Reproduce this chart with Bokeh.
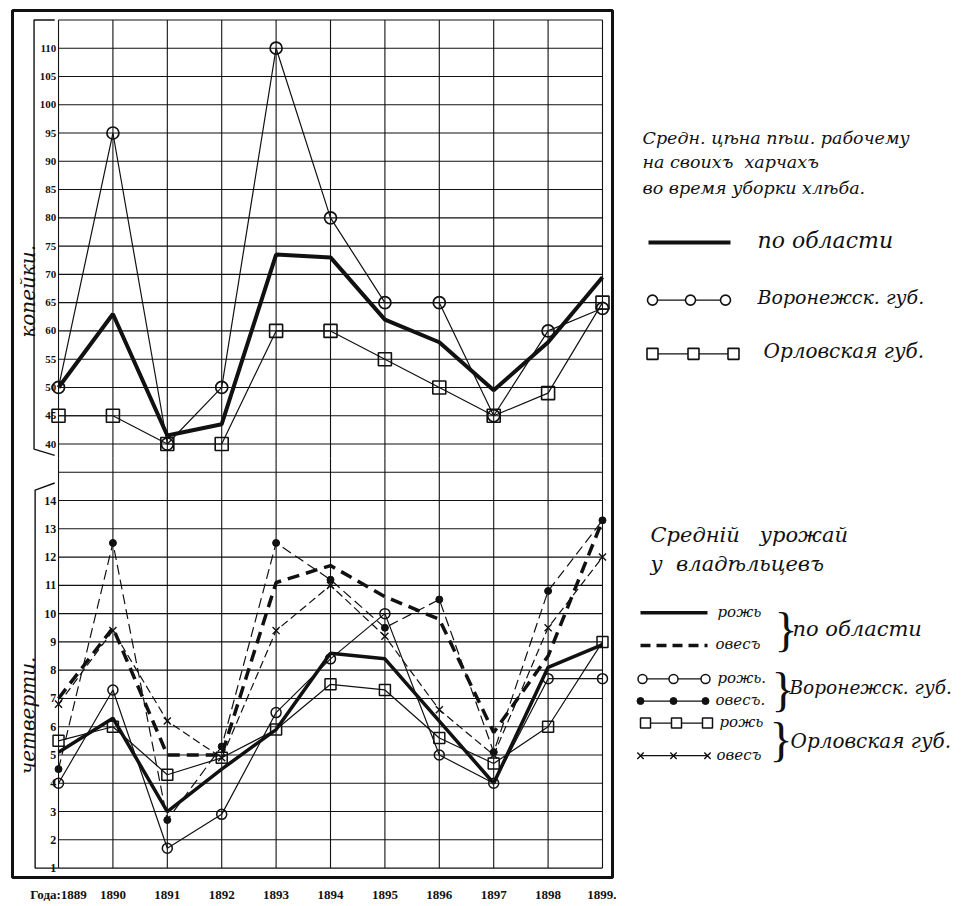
from bokeh.plotting import figure
from bokeh.models import Range1d, FixedTicker
from bokeh.layouts import row
from bokeh.embed import file_html
from bokeh.resources import INLINE
from bokeh.core.properties import value
import math

# ---------------- data ----------------
years = [1889, 1890, 1891, 1892, 1893, 1894, 1895, 1896, 1897, 1898, 1899]
year_labels = ["Года:1889", "1890", "1891", "1892", "1893", "1894",
               "1895", "1896", "1897", "1898", "1899."]

price_ticks = [40, 45, 50, 55, 60, 65, 70, 75, 80, 85, 90, 95, 100, 105, 110]
price_grid = [40, 45, 50, 55, 60, 65, 70, 75, 80, 85, 90, 95, 100, 105, 110, 115]
yield_ticks = [1, 2, 3, 4, 5, 6, 7, 8, 9, 10, 11, 12, 13, 14]
yield_grid = [1, 2, 3, 4, 5, 6, 7, 8, 9, 10, 11, 12, 13, 14, 15]

# wage of a day labourer at harvest time (kopecks)
price_region = [50, 63, 41.5, 43.5, 73.5, 73, 62, 58, 49.5, 58, 69.5]
price_voronezh = [50, 95, 40, 50, 110, 80, 65, 65, 45, 60, 64]
price_orel = [45, 45, 40, 40, 60, 60, 55, 50, 45, 49, 65]

# average yield of landowners (chetverti)
yield_region_rye = [5.1, 6.3, 3.0, 4.5, 5.9, 8.6, 8.4, 6.2, 4.0, 8.1, 8.9]
yield_region_oats = [7.0, 9.5, 5.0, 5.0, 11.1, 11.7, 10.6, 9.8, 5.8, 8.5, 13.3]
yield_voronezh_rye = [4.0, 7.3, 1.7, 2.9, 6.5, 8.4, 10.0, 5.0, 4.0, 7.7, 7.7]
yield_voronezh_oats = [4.5, 12.5, 2.7, 5.3, 12.5, 11.2, 9.5, 10.5, 5.1, 10.8, 13.3]
yield_orel_rye = [5.5, 6.0, 4.3, 4.9, 5.9, 7.5, 7.3, 5.6, 4.7, 6.0, 9.0]
yield_orel_oats = [6.8, 9.4, 6.2, 4.9, 9.4, 11.0, 9.2, 6.6, 5.0, 9.5, 12.0]

FONT = value("Liberation Serif")
HAND = value("DejaVu Serif")
INK = "#111111"

# ---------------- main chart ----------------
p = figure(width=616, height=904,
           x_range=Range1d(1888.154, 1899.184),
           y_range=Range1d(-36.667, 116.667),
           output_backend="svg", toolbar_location=None,
           y_axis_location=None,
           min_border_left=12, min_border_right=4,
           min_border_top=10, min_border_bottom=20)
p.extra_y_ranges = {"yield": Range1d(0.6667, 31.333)}
p.xgrid.visible = False
p.ygrid.visible = False
p.outline_line_color = INK
p.outline_line_width = 3
p.background_fill_color = "white"
p.border_fill_color = "white"

ax = p.xaxis[0]
ax.ticker = FixedTicker(ticks=years)
ax.major_label_overrides = {y: lab for y, lab in zip(years, year_labels)}
ax.axis_line_color = None
ax.major_tick_line_color = None
ax.minor_tick_line_color = None
ax.major_label_standoff = 3
ax.major_label_text_font = "Liberation Serif"
ax.major_label_text_font_size = "13px"
ax.major_label_text_font_style = "bold"
ax.major_label_text_color = INK

n = len(years)
x_first, x_last = years[0], years[-1]
price_top = price_grid[-1]
price_floor = 37.5
yield_top = 15.5

# grid: vertical lines
p.segment(x0=years, x1=years, y0=[price_floor] * n, y1=[price_top] * n,
          line_color=INK, line_width=1.1)
p.segment(x0=years, x1=years, y0=[yield_grid[0]] * n, y1=[yield_top] * n,
          line_color=INK, line_width=1.1, y_range_name="yield")
# grid: horizontal lines
p.segment(x0=[x_first] * len(price_grid), x1=[x_last] * len(price_grid),
          y0=price_grid, y1=price_grid, line_color=INK, line_width=1.1)
p.segment(x0=[x_first] * len(yield_grid), x1=[x_last] * len(yield_grid),
          y0=yield_grid, y1=yield_grid, line_color=INK, line_width=1.1,
          y_range_name="yield")
# brackets on the left
p.line(x=[1888.93, 1888.55, 1888.55, 1888.93],
       y=[price_top, price_top, 39.1, 38.0], line_color=INK, line_width=1.4)
p.line(x=[1888.93, 1888.57, 1888.57, 1889.0],
       y=[14.62, 14.37, yield_grid[0], yield_grid[0]], line_color=INK,
       line_width=1.4, y_range_name="yield")

# tick labels
p.text(x=[1888.96] * len(price_ticks), y=price_ticks,
       text=[str(t) for t in price_ticks], text_align="right",
       text_baseline="middle", text_font=FONT, text_font_size="11px",
       text_font_style="bold", text_color=INK)
p.text(x=[1888.96] * len(yield_ticks), y=yield_ticks,
       text=[str(t) for t in yield_ticks], text_align="right",
       text_baseline="middle", text_font=FONT, text_font_size="12px",
       text_font_style="bold", text_color=INK, y_range_name="yield")

# axis titles
p.text(x=[1888.43], y=[67], text=["копейки."], angle=math.pi / 2,
       text_align="center", text_baseline="middle", text_font=HAND,
       text_font_size="20px", text_font_style="italic", text_color=INK)
p.text(x=[1888.43], y=[6.4], text=["четверти."], angle=math.pi / 2,
       text_align="center", text_baseline="middle", text_font=HAND,
       text_font_size="20px", text_font_style="italic", text_color=INK,
       y_range_name="yield")

# ---- upper panel: prices ----
p.line(years, price_voronezh, line_color=INK, line_width=1.2)
p.line(years, price_orel, line_color=INK, line_width=1.2)
p.line(years, price_region, line_color=INK, line_width=4)
p.scatter(years, price_voronezh, marker="circle", size=12, fill_color=None,
          line_color=INK, line_width=1.7)
p.scatter(years, price_orel, marker="square", size=13, fill_color=None,
          line_color=INK, line_width=1.6)

# ---- lower panel: yields ----
Y = dict(y_range_name="yield")
p.line(years, yield_voronezh_rye, line_color=INK, line_width=1.2, **Y)
p.line(years, yield_orel_rye, line_color=INK, line_width=1.2, **Y)
p.line(years, yield_voronezh_oats, line_color=INK, line_width=1.2,
       line_dash="10 5", **Y)
p.line(years, yield_orel_oats, line_color=INK, line_width=1.2,
       line_dash="8 4", **Y)
p.line(years, yield_region_rye, line_color=INK, line_width=3.5, **Y)
p.line(years, yield_region_oats, line_color=INK, line_width=3.5,
       line_dash="12 7", **Y)
p.scatter(years, yield_voronezh_rye, marker="circle", size=10, fill_color=None,
          line_color=INK, line_width=1.5, **Y)
p.scatter(years, yield_orel_rye, marker="square", size=11, fill_color=None,
          line_color=INK, line_width=1.5, **Y)
p.scatter(years, yield_voronezh_oats, marker="circle", size=7, fill_color=INK,
          line_color=INK, **Y)
p.scatter(years, yield_orel_oats, marker="x", size=10, line_color=INK,
          line_width=1.4, **Y)

# ---------------- legend panel ----------------
q = figure(width=344, height=904, x_range=Range1d(0, 344),
           y_range=Range1d(904, 0), output_backend="svg",
           toolbar_location=None, x_axis_location=None, y_axis_location=None,
           min_border=0, outline_line_color=None)
q.xgrid.visible = False
q.ygrid.visible = False


def txt(x, y, s, size, align="left", style="italic", font=HAND):
    q.text(x=[x], y=[y], text=[s], text_align=align, text_baseline="middle",
           text_font=font, text_font_size=size, text_font_style=style,
           text_color=INK)


NB = "\u00a0"

# upper legend
title1 = ["Средн. цѣна пѣш. рабочему", "на своихъ" + NB * 2 + "харчахъ",
          "во время уборки хлѣба."]
for s, yy in zip(title1, [133, 158, 185]):
    txt(26, yy, s, "17.5px")

q.line([32, 114], [242, 242], line_color=INK, line_width=4)
txt(141, 240, "по области", "22px")
q.line([36, 109], [302, 302], line_color=INK, line_width=1.3)
q.scatter([36, 74, 109], [302, 302, 302], marker="circle", size=10,
          fill_color="white", line_color=INK, line_width=1.6)
txt(141, 299, "Воронежск. губ.", "19px")
q.line([36, 117], [358, 358], line_color=INK, line_width=1.3)
q.scatter([36, 77, 117], [358, 358, 358], marker="square", size=11,
          fill_color="white", line_color=INK, line_width=1.6)
txt(147, 355, "Орловская губ.", "20px")

# lower legend
txt(34, 547, "Средній" + NB * 3 + "урожай", "21px")
txt(34, 577, "у" + NB * 2 + "владѣльцевъ", "21px")

q.line([24, 91], [628, 628], line_color=INK, line_width=3.5)
txt(101, 627, "рожь", "15px")
q.line([24, 91], [662, 662], line_color=INK, line_width=3.5, line_dash="10 6")
txt(99, 661, "овесъ", "15px")
txt(158, 645, "}", "48px", style="normal", font=FONT)
txt(176, 645, "по области", "21px")

q.line([26, 89], [697, 697], line_color=INK, line_width=1.3)
q.scatter([26, 57, 89], [697, 697, 697], marker="circle", size=9,
          fill_color="white", line_color=INK, line_width=1.5)
txt(101, 696, "рожь.", "15px")
q.line([24, 89], [720, 720], line_color=INK, line_width=1.3)
q.scatter([24, 57, 89], [720, 720, 720], marker="circle", size=7,
          fill_color=INK, line_color=INK)
txt(99, 719, "овесъ.", "15px")
txt(155, 708, "}", "48px", style="normal", font=FONT)
txt(173, 706, "Воронежск. губ.", "18.5px")

q.line([29, 91], [743, 743], line_color=INK, line_width=1.3)
q.scatter([29, 60, 91], [743, 743, 743], marker="square", size=10,
          fill_color="white", line_color=INK, line_width=1.5)
txt(103, 742, "рожь", "15px")
q.line([24, 91], [777, 777], line_color=INK, line_width=1.3)
q.scatter([24, 57, 91], [777, 777, 777], marker="x", size=9,
          line_color=INK, line_width=1.4)
txt(100, 776, "овесъ", "15px")
txt(153, 760, "}", "48px", style="normal", font=FONT)
txt(174, 762, "Орловская губ.", "20px")

layout = row(p, q)
open("out.html", "w").write(file_html(layout, INLINE))
